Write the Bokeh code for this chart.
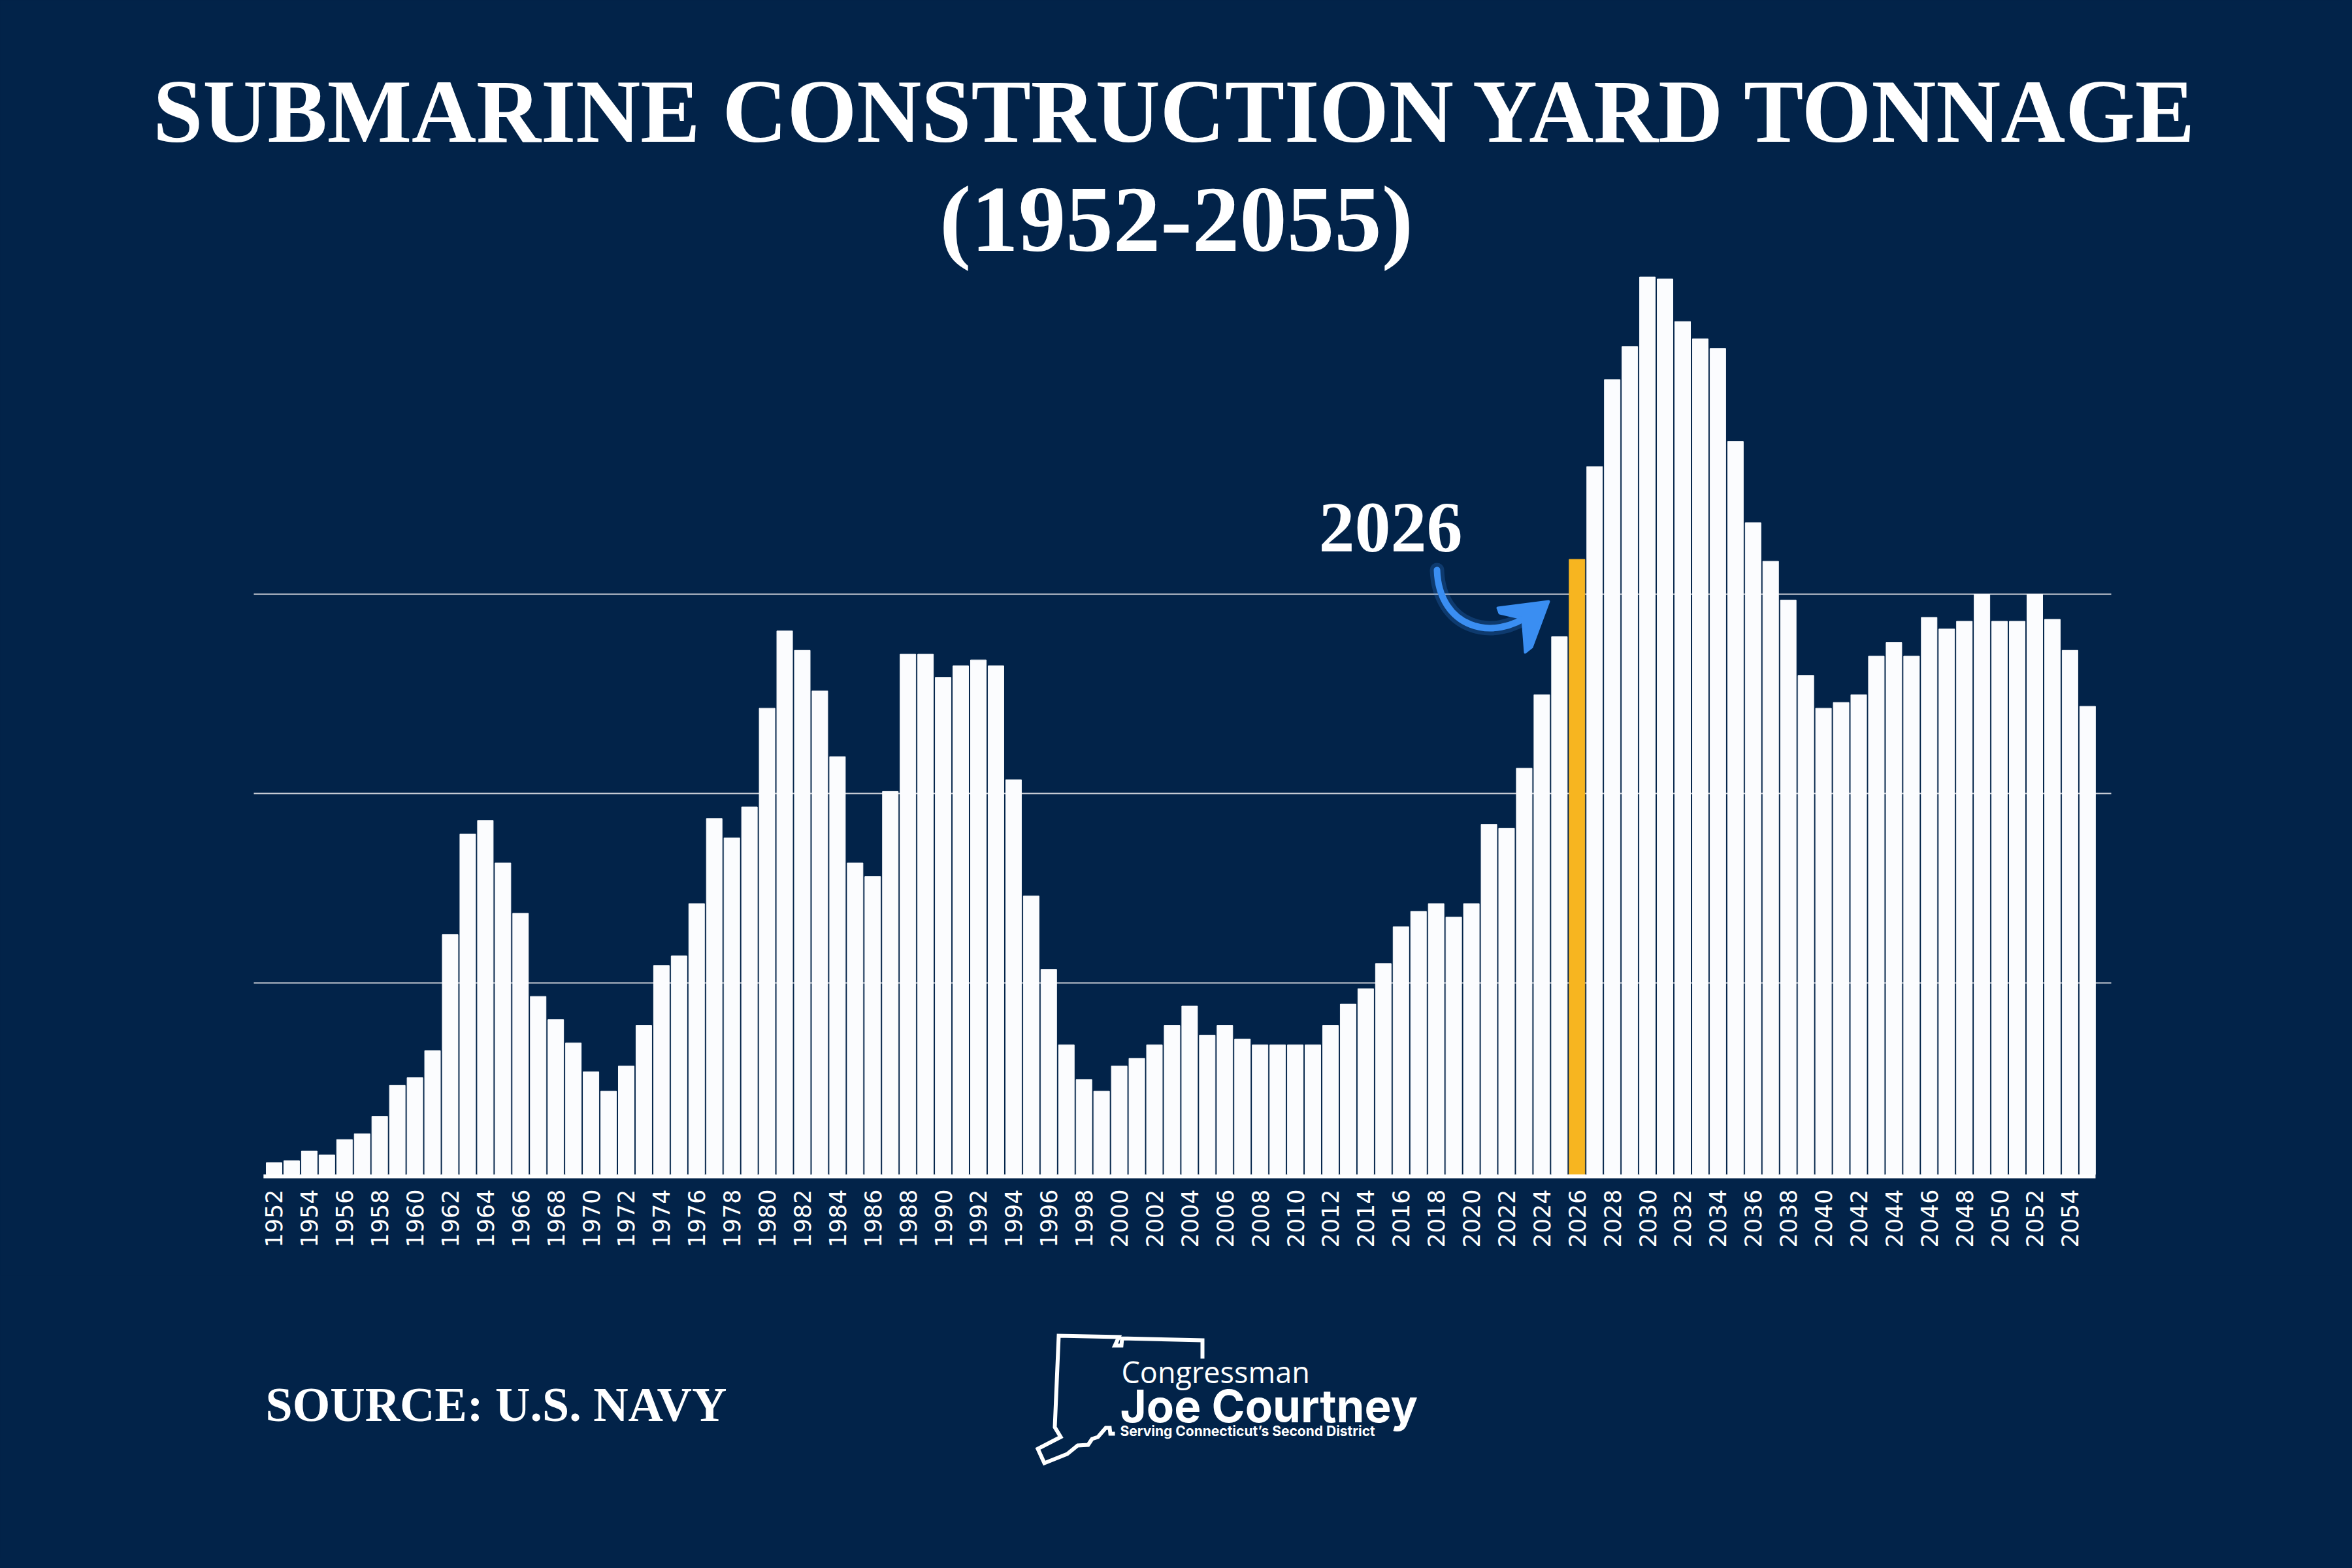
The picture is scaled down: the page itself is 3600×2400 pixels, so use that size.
import math

from bokeh.embed import file_html
from bokeh.layouts import column
from bokeh.models import ColumnDataSource, FixedTicker, Label, Range1d
from bokeh.plotting import figure
from bokeh.resources import INLINE

# ---------- data (thousand tons, unlabelled axis) ----------
years = list(range(1952, 2056))
tonnage = [
    6, 7, 12, 10, 18, 21, 30, 46, 50, 64,              # 1952-1961
    124, 176, 183, 161, 135, 92, 80, 68, 53, 43,       # 1962-1971
    56, 77, 108, 113, 140, 184, 174, 190, 241, 281,    # 1972-1981
    271, 250, 216, 161, 154, 198, 269, 269, 257, 263,  # 1982-1991
    266, 263, 204, 144, 106, 67, 49, 43, 56, 60,       # 1992-2001
    67, 77, 87, 72, 77, 70, 67, 67, 67, 67,            # 2002-2011
    77, 88, 96, 109, 128, 136, 140, 133, 140, 181,     # 2012-2021
    179, 210, 248, 278, 318, 366, 411, 428, 464, 463,  # 2022-2031
    441, 432, 427, 379, 337, 317, 297, 258, 241, 244,  # 2032-2041
    248, 268, 275, 268, 288, 282, 286, 300, 286, 286,  # 2042-2051
    300, 287, 271, 242,                                # 2052-2055
]
highlight_year = 2026
tick_years = years[::2]
grid_values = [99, 197, 300]

title_line1 = "SUBMARINE CONSTRUCTION YARD TONNAGE"
title_line2 = "(1952-2055)"
source_text = "SOURCE: U.S. NAVY"

NAVY = "#022349"
GOLD = "#f7b520"
BAR = "#fbfcfe"
BLUE = "#3a8ef2"
GRID = "#c9ced6"
SERIF = "Liberation Serif"

# ---------- reference pixel -> chart data mapping ----------
X_LEFT_PX, X_START, PX_PER_YEAR = 396, 1950.85, 26.95
ZERO_PX, PX_PER_UNIT = 1805, 2.96
FIG_H, BOTTOM_BORDER = 1952, 148
LIFT = 0.3  # bokeh puts the alphabetic baseline ~0.3em low, compensate


def to_x(px):
    return X_START + (px - X_LEFT_PX) / PX_PER_YEAR


def to_y(py):
    return (ZERO_PX - py) / PX_PER_UNIT


def text_label(x, y, text, size, font=SERIF, style="bold", align="left"):
    return Label(x=x, y=y, text=text, text_font=font, text_font_style=style,
                 text_font_size=f"{size}px", text_color="white",
                 text_align=align, text_baseline="alphabetic")


colors = [GOLD if y == highlight_year else BAR for y in years]
src = ColumnDataSource(dict(year=years, tonnage=tonnage, color=colors))

# ---------- main chart ----------
p = figure(
    width=3584,
    height=FIG_H,
    x_range=Range1d(to_x(8), to_x(3592)),
    y_range=Range1d(to_y(8 + FIG_H - BOTTOM_BORDER), to_y(8)),
    output_backend="svg",
    toolbar_location=None,
    min_border_left=0,
    min_border_right=0,
    min_border_top=0,
    min_border_bottom=BOTTOM_BORDER,
    background_fill_color=NAVY,
    border_fill_color=NAVY,
    outline_line_color=None,
)

# grid lines (only over the chart width, below the bars)
p.segment(x0=[to_x(396)] * len(grid_values), y0=grid_values,
          x1=[to_x(3239)] * len(grid_values), y1=grid_values,
          line_color=GRID, line_width=2)

p.vbar(x="year", top="tonnage", bottom=0, width=0.89, color="color", source=src)

# baseline (axis line drawn only under the bars)
p.segment(x0=[years[0] - 0.6], y0=[to_y(1808)], x1=[years[-1] + 0.45], y1=[to_y(1808)],
          line_color="white", line_width=6)

p.yaxis.visible = False
p.grid.visible = False

p.xaxis.ticker = FixedTicker(ticks=tick_years)
p.xaxis.major_label_orientation = math.pi / 2
p.xaxis.axis_line_color = None
p.xaxis.major_tick_line_color = None
p.xaxis.minor_tick_line_color = None
p.xaxis.major_label_standoff = 10
p.xaxis.major_label_text_color = "white"
p.xaxis.major_label_text_font = "DejaVu Sans"
p.xaxis.major_label_text_font_size = "35px"

# titles
p.add_layout(text_label(to_x(1808), to_y(220 - LIFT * 137), title_line1, 137, align="center"))
p.add_layout(text_label(to_x(1808), to_y(386 - LIFT * 145), title_line2, 145, align="center"))

# 2026 callout
p.add_layout(text_label(to_x(2136), to_y(848 - LIFT * 110), str(highlight_year), 110,
                        align="center"))

arrow_px = dict(x0=2207, y0=880, cx0=2210, cy0=968, cx1=2292, cy1=992, x1=2352, y1=946)
bz = {k: [to_x(v) if k.startswith(("x", "cx")) else to_y(v)] for k, v in arrow_px.items()}
p.bezier(**bz, line_color=BLUE, line_width=22, line_alpha=0.22, line_cap="round")
p.bezier(**bz, line_color=BLUE, line_width=10, line_cap="round")
head_px_x = [2378, 2300, 2303, 2338, 2342, 2352]
head_px_y = [928, 938, 946, 954, 1006, 998]
p.patch([to_x(v) for v in head_px_x], [to_y(v) for v in head_px_y],
        fill_color=BLUE, line_color=BLUE, line_width=4, line_join="round")

# ---------- footer: source + logo (data units = reference pixels) ----------
q = figure(
    width=3584,
    height=432,
    x_range=Range1d(8, 3592),
    y_range=Range1d(2392, 1960),
    x_axis_location=None,
    y_axis_location=None,
    output_backend="svg",
    toolbar_location=None,
    min_border=0,
    background_fill_color=NAVY,
    border_fill_color=NAVY,
    outline_line_color=None,
)
q.grid.visible = False

q.add_layout(text_label(414, 2180 - LIFT * 74, source_text, 74))

# Connecticut outline of the logo
ct_x = [1848, 1848, 1725, 1724, 1714, 1720, 1628, 1622, 1631, 1596, 1606, 1641,
        1657, 1673, 1679, 1688, 1700, 1706, 1707, 1714]
ct_y = [2087, 2059, 2056, 2067, 2067, 2054, 2052, 2192, 2207, 2225, 2247, 2233,
        2220, 2219, 2210, 2207, 2193, 2193, 2202, 2202]
q.line(ct_x, ct_y, line_color="white", line_width=6, line_join="miter")

q.add_layout(text_label(1724, 2120 - LIFT * 45, "Congressman", 45, font="Open Sans",
                        style="normal"))
q.add_layout(text_label(1722, 2180 - LIFT * 69, "Joe Courtney", 69, font="Inter"))
q.add_layout(text_label(1722, 2204 - LIFT * 21, "Serving Connecticut\u2019s Second District",
                        21, font="Inter"))

layout = column(p, q)
html = file_html(layout, INLINE)
cut = html.rfind("</head>")
if cut != -1:
    html = html[:cut] + f"<style>html, body {{ background-color: {NAVY}; }}</style>" + html[cut:]
open("out.html", "w").write(html)
